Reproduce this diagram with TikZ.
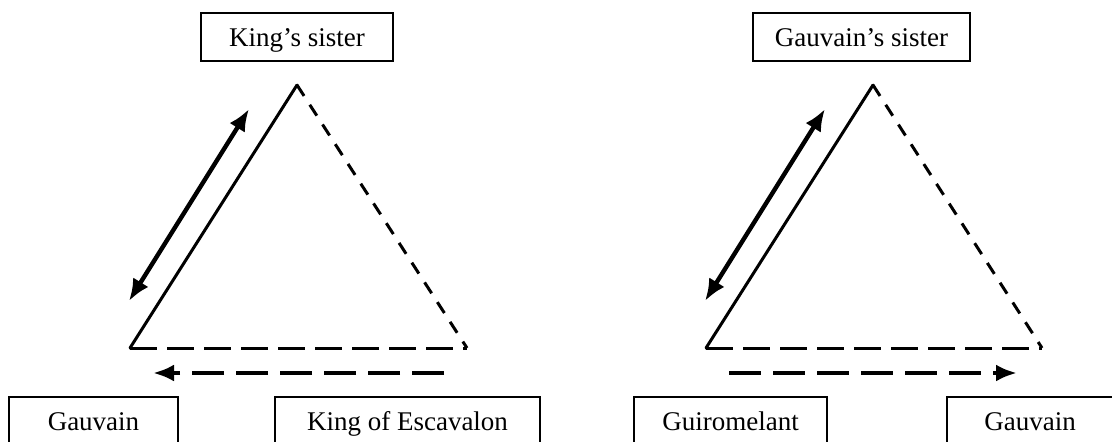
\documentclass[tikz,border=0pt]{standalone}
\usepackage{fontspec}
\setmainfont{Liberation Serif}
\usepackage{tikz}
\usetikzlibrary{arrows.meta}

\begin{document}
\begin{tikzpicture}[x=0.5pt,y=0.5pt,yscale=-1,xscale=1,
  namebox/.style={draw, line width=1pt, minimum height=24pt, inner sep=2pt,
    text height=1.1em, text depth=0.14em, font=\fontsize{13.5pt}{16pt}\selectfont},
  side/.style={line width=1.5pt, line cap=round, line join=miter},
  sidedash/.style={side, line cap=butt, dash pattern=on 6.5pt off 5.25pt},
  basedash/.style={side, line cap=butt, dash pattern=on 13.5pt off 5pt},
  bothway/.style={line width=2.2pt, {Latex[length=11pt,width=9pt]}-{Latex[length=11pt,width=9pt]}},
  oneway/.style={line width=2.2pt, dash pattern=on 16pt off 6pt, -{Latex[length=10.5pt,width=8.5pt]}}]
\clip (0,0) rectangle (1112,441);

%Corners: left triangle
\coordinate (topA) at (297,85);
\coordinate (leftA) at (130,348);
\coordinate (rightA) at (467,348);
%Corners: right triangle
\coordinate (topB) at (873,85);
\coordinate (leftB) at (706,348);
\coordinate (rightB) at (1042,348);

%Arrow ends
\coordinate (upA) at (249,109);
\coordinate (downA) at (129,301);
\coordinate (upB) at (825,109);
\coordinate (downB) at (705,301);
\coordinate (tailA) at (444,373);
\coordinate (tipA) at (153,373);
\coordinate (tailB) at (729,373);
\coordinate (tipB) at (1017,373);

% Text Node
\node [namebox, minimum width=96pt] (ksister) at (297,37) {King’s sister};
% Text Node
\node [namebox, minimum width=108.5pt] (gsister) at (861.5,37) {Gauvain’s sister};
% Text Node
\node [namebox, minimum width=84.5pt] (gauvainA) at (93.5,421) {Gauvain};
% Text Node
\node [namebox, minimum width=132.5pt] (escavalon) at (407.5,421) {King of Escavalon};
% Text Node
\node [namebox, minimum width=96.5pt] (guiromelant) at (730.5,421) {Guiromelant};
% Text Node
\node [namebox, minimum width=83pt] (gauvainB) at (1030,421) {Gauvain};

%Shape: Triangle left
\draw [side] (leftA) -- (topA);
\draw [sidedash] (topA) -- (rightA);
\draw [basedash] (leftA) -- (rightA);
%Shape: Triangle right
\draw [side] (leftB) -- (topB);
\draw [sidedash] (topB) -- (rightB);
\draw [basedash] (leftB) -- (rightB);

%Straight Lines: arrows
\draw [bothway] (downA) -- (upA);
\draw [bothway] (downB) -- (upB);
\draw [oneway] (tailA) -- (tipA);
\draw [oneway] (tailB) -- (tipB);

\end{tikzpicture}
\end{document}
